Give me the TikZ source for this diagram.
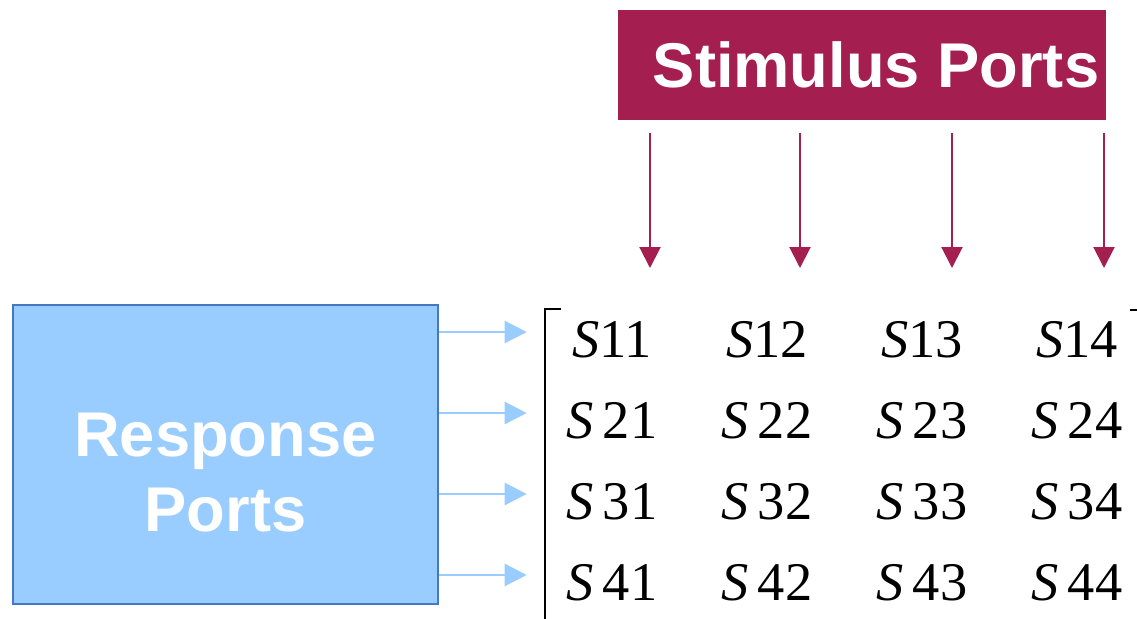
\documentclass[tikz,border=0pt]{standalone}
\usepackage{fontspec}
\setmainfont{Liberation Serif}
\setsansfont{Liberation Sans}
\usepackage{xcolor}
\usepackage{tikz}
\usetikzlibrary{arrows.meta,positioning,matrix}

\definecolor{portred}{HTML}{A51E50}
\definecolor{portblue}{HTML}{99CCFF}
\definecolor{portedge}{HTML}{4477C8}

\begin{document}
\begin{tikzpicture}[x=0.02cm, y=-0.02cm,
    stimarrow/.style={draw=portred, line width=1.2pt, -{Triangle[width=0.42cm, length=0.42cm]}},
    resparrow/.style={draw=portblue, line width=1.4pt, -{Triangle[width=0.44cm, length=0.44cm]}, shorten >=0.15cm}]
    \useasboundingbox (0,0) rectangle (1137,619);

    % ports boxes
    \node[fill=portred, minimum width=9.76cm, minimum height=2.2cm, inner sep=0, anchor=north west,
          font=\sffamily\bfseries\fontsize{36}{42}\selectfont, text=white] (stim) at (618,10) {\hspace{0.55cm}Stimulus Ports};
    \node[fill=portblue, draw=portedge, line width=1.1pt, minimum width=8.5cm, minimum height=5.98cm, inner sep=0,
          anchor=north west, align=center, text=white,
          font=\sffamily\bfseries\fontsize{36}{42.5}\selectfont] (resp) at (12,304) {\rule{0pt}{1.6cm}Response\\Ports};

    % S-parameter matrix
    \matrix (m) at (844.5,461.5) [matrix of nodes, row sep=0, column sep=0,
        nodes={minimum width=3.1cm, minimum height=1.62cm, inner sep=0, font=\fontsize{31}{33}\selectfont}] {
      \textit{S}11 & \textit{S}12 & \textit{S}13 & \textit{S}14 \\
      \textit{S}\,21 & \textit{S}\,22 & \textit{S}\,23 & \textit{S}\,24 \\
      \textit{S}\,31 & \textit{S}\,32 & \textit{S}\,33 & \textit{S}\,34 \\
      \textit{S}\,41 & \textit{S}\,42 & \textit{S}\,43 & \textit{S}\,44 \\
    };

    % brackets
    \draw[line width=1.1pt] (561,309) -- (545,309) -- (545,625);
    \draw[line width=1.1pt] (1130,310) -- (1140,310);

    % stimulus arrows
    \foreach \x [count=\i] in {650,800,952,1104} {
      \coordinate (top\i) at (\x,133);
      \coordinate (tip\i) at (\x,268);
      \draw[stimarrow] (top\i) -- (tip\i);
    }

    % response arrows
    \foreach \i in {1,...,4}
      \draw[resparrow, transform canvas={yshift=0.16cm}] (resp.east |- m-\i-1) -- (m-\i-1.west);
\end{tikzpicture}
\end{document}
